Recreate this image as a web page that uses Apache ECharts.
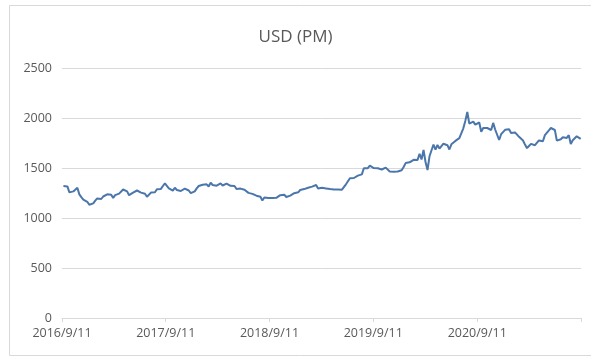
<!DOCTYPE html>
<html>
<head>
<meta charset="utf-8">
<title>USD (PM)</title>
<script src="https://cdn.jsdelivr.net/npm/echarts@6/dist/echarts.min.js"></script>
<style>
  html, body { margin: 0; padding: 0; background: #fff; }
  #chart { width: 591px; height: 358px; }
</style>
</head>
<body>
<div id="chart"></div>
<script>
// Weekly (Friday) gold fixing, USD per troy ounce, PM session.
const firstFriday = [2016, 8, 16];   // year, month index, day

const usd2016 = [1320, 1337, 1316, 1256, 1254, 1266, 1276, 1302, 1236, 1208, 1184, 1172, 1162, 1133, 1131, 1146];
const usd2017 = [1173, 1196, 1205, 1190, 1215, 1228, 1237, 1253, 1232, 1201, 1229, 1246, 1244,
                 1263, 1285, 1284, 1266, 1228, 1228, 1253, 1266, 1275, 1267, 1254, 1256, 1242,
                 1213, 1228, 1254, 1268, 1258, 1288, 1291, 1291, 1320, 1346, 1322, 1297, 1283,
                 1274, 1303, 1280, 1266, 1270, 1285, 1293, 1288, 1275, 1248, 1255, 1266, 1296];
const usd2018 = [1320, 1333, 1333, 1349, 1337, 1315, 1353, 1330, 1320, 1323, 1313, 1346, 1325,
                 1332, 1344, 1338, 1322, 1312, 1320, 1290, 1301, 1294, 1298, 1282, 1268, 1251,
                 1255, 1241, 1229, 1223, 1212, 1212, 1176, 1205, 1201, 1199, 1193, 1199, 1187,
                 1202, 1222, 1228, 1236, 1233, 1210, 1221, 1224, 1222, 1248, 1238, 1257, 1280];
const usd2019 = [1285, 1289, 1282, 1303, 1318, 1314, 1322, 1330, 1294, 1298, 1302, 1312, 1296,
                 1291, 1290, 1275, 1285, 1280, 1286, 1277, 1283, 1295, 1337, 1341, 1397, 1409,
                 1400, 1411, 1424, 1420, 1436, 1497, 1514, 1498, 1523, 1507, 1499, 1506, 1498,
                 1505, 1485, 1489, 1504, 1511, 1465, 1466, 1463, 1465, 1465, 1474, 1478, 1510];
const usd2020 = [1549, 1552, 1557, 1565, 1582, 1570, 1581, 1643, 1585, 1680, 1560, 1480, 1617,
                 1620, 1735, 1683, 1730, 1694, 1710, 1743, 1735, 1728, 1685, 1737, 1743, 1771,
                 1775, 1798, 1810, 1897, 1971, 2060, 1944, 1932, 1964, 1934, 1947, 1955, 1862,
                 1900, 1919, 1900, 1905, 1880, 1951, 1885, 1871, 1780, 1838, 1838, 1882, 1876];
const usd2021 = [1887, 1850, 1830, 1856, 1863, 1812, 1823, 1775, 1734, 1698, 1720, 1741, 1730,
                 1728, 1742, 1776, 1781, 1768, 1829, 1839, 1876, 1900, 1891, 1880, 1774, 1781,
                 1787, 1808, 1826, 1801, 1829, 1740, 1778, 1783, 1817, 1827, 1792];

// Yearly axis marks (Sept 11 of each year)
const tickDates = ['2016/9/11', '2017/9/11', '2018/9/11', '2019/9/11', '2020/9/11', '2021/9/11'];
const labelDates = tickDates.slice(0, 5);
const yTicks = [0, 500, 1000, 1500, 2000, 2500];

const usdPm = [].concat(usd2016, usd2017, usd2018, usd2019, usd2020, usd2021);

function toTime(s) {
  const p = s.split('/').map(Number);
  return new Date(p[0], p[1] - 1, p[2]).getTime();
}

const points = usdPm.map(function (v, i) {
  const d = new Date(firstFriday[0], firstFriday[1], firstFriday[2] + 7 * i);
  return [d.getTime(), v];
});

const chart = echarts.init(document.getElementById('chart'), null, { renderer: 'canvas' });
const textColor = '#595959';
const gridColor = '#d9d9d9';
const font = '"Open Sans", "Liberation Sans", sans-serif';

chart.setOption({
  animation: false,
  backgroundColor: '#fff',
  graphic: [{
    type: 'rect',
    shape: { x: 9.5, y: 5.5, width: 600, height: 350 },
    style: { fill: 'none', stroke: gridColor, lineWidth: 1 },
    silent: true
  }],
  title: {
    text: 'USD (PM)',
    left: 'center',
    top: 24,
    textStyle: { fontFamily: font, fontSize: 17, fontWeight: 'normal', color: textColor }
  },
  grid: { left: 62, right: 10, top: 68, bottom: 40 },
  xAxis: {
    type: 'value',
    min: toTime(tickDates[0]),
    max: toTime(tickDates[tickDates.length - 1]),
    axisLine: { show: true, onZero: false, lineStyle: { color: gridColor, width: 1 } },
    axisTick: {
      show: true,
      length: 4,
      lineStyle: { color: gridColor },
      customValues: tickDates.map(toTime)
    },
    axisLabel: {
      customValues: labelDates.map(toTime),
      margin: 9,
      color: textColor,
      fontFamily: font,
      fontSize: 12.5,
      formatter: function (val) {
        const d = new Date(val);
        return d.getFullYear() + '/' + (d.getMonth() + 1) + '/' + d.getDate();
      }
    },
    splitLine: { show: false }
  },
  yAxis: {
    type: 'value',
    min: yTicks[0],
    max: yTicks[yTicks.length - 1],
    interval: 500,
    axisLine: { show: false },
    axisTick: { show: false },
    axisLabel: {
      margin: 10,
      color: textColor,
      fontFamily: font,
      fontSize: 12.5,
      formatter: function (v) { return String(v); }
    },
    splitLine: { lineStyle: { color: gridColor, width: 1 } }
  },
  series: [{
    name: 'USD (PM)',
    type: 'line',
    data: points,
    showSymbol: false,
    symbol: 'none',
    lineStyle: { color: '#4a76ab', width: 2 },
    itemStyle: { color: '#4a76ab' }
  }]
});
</script>
</body>
</html>
